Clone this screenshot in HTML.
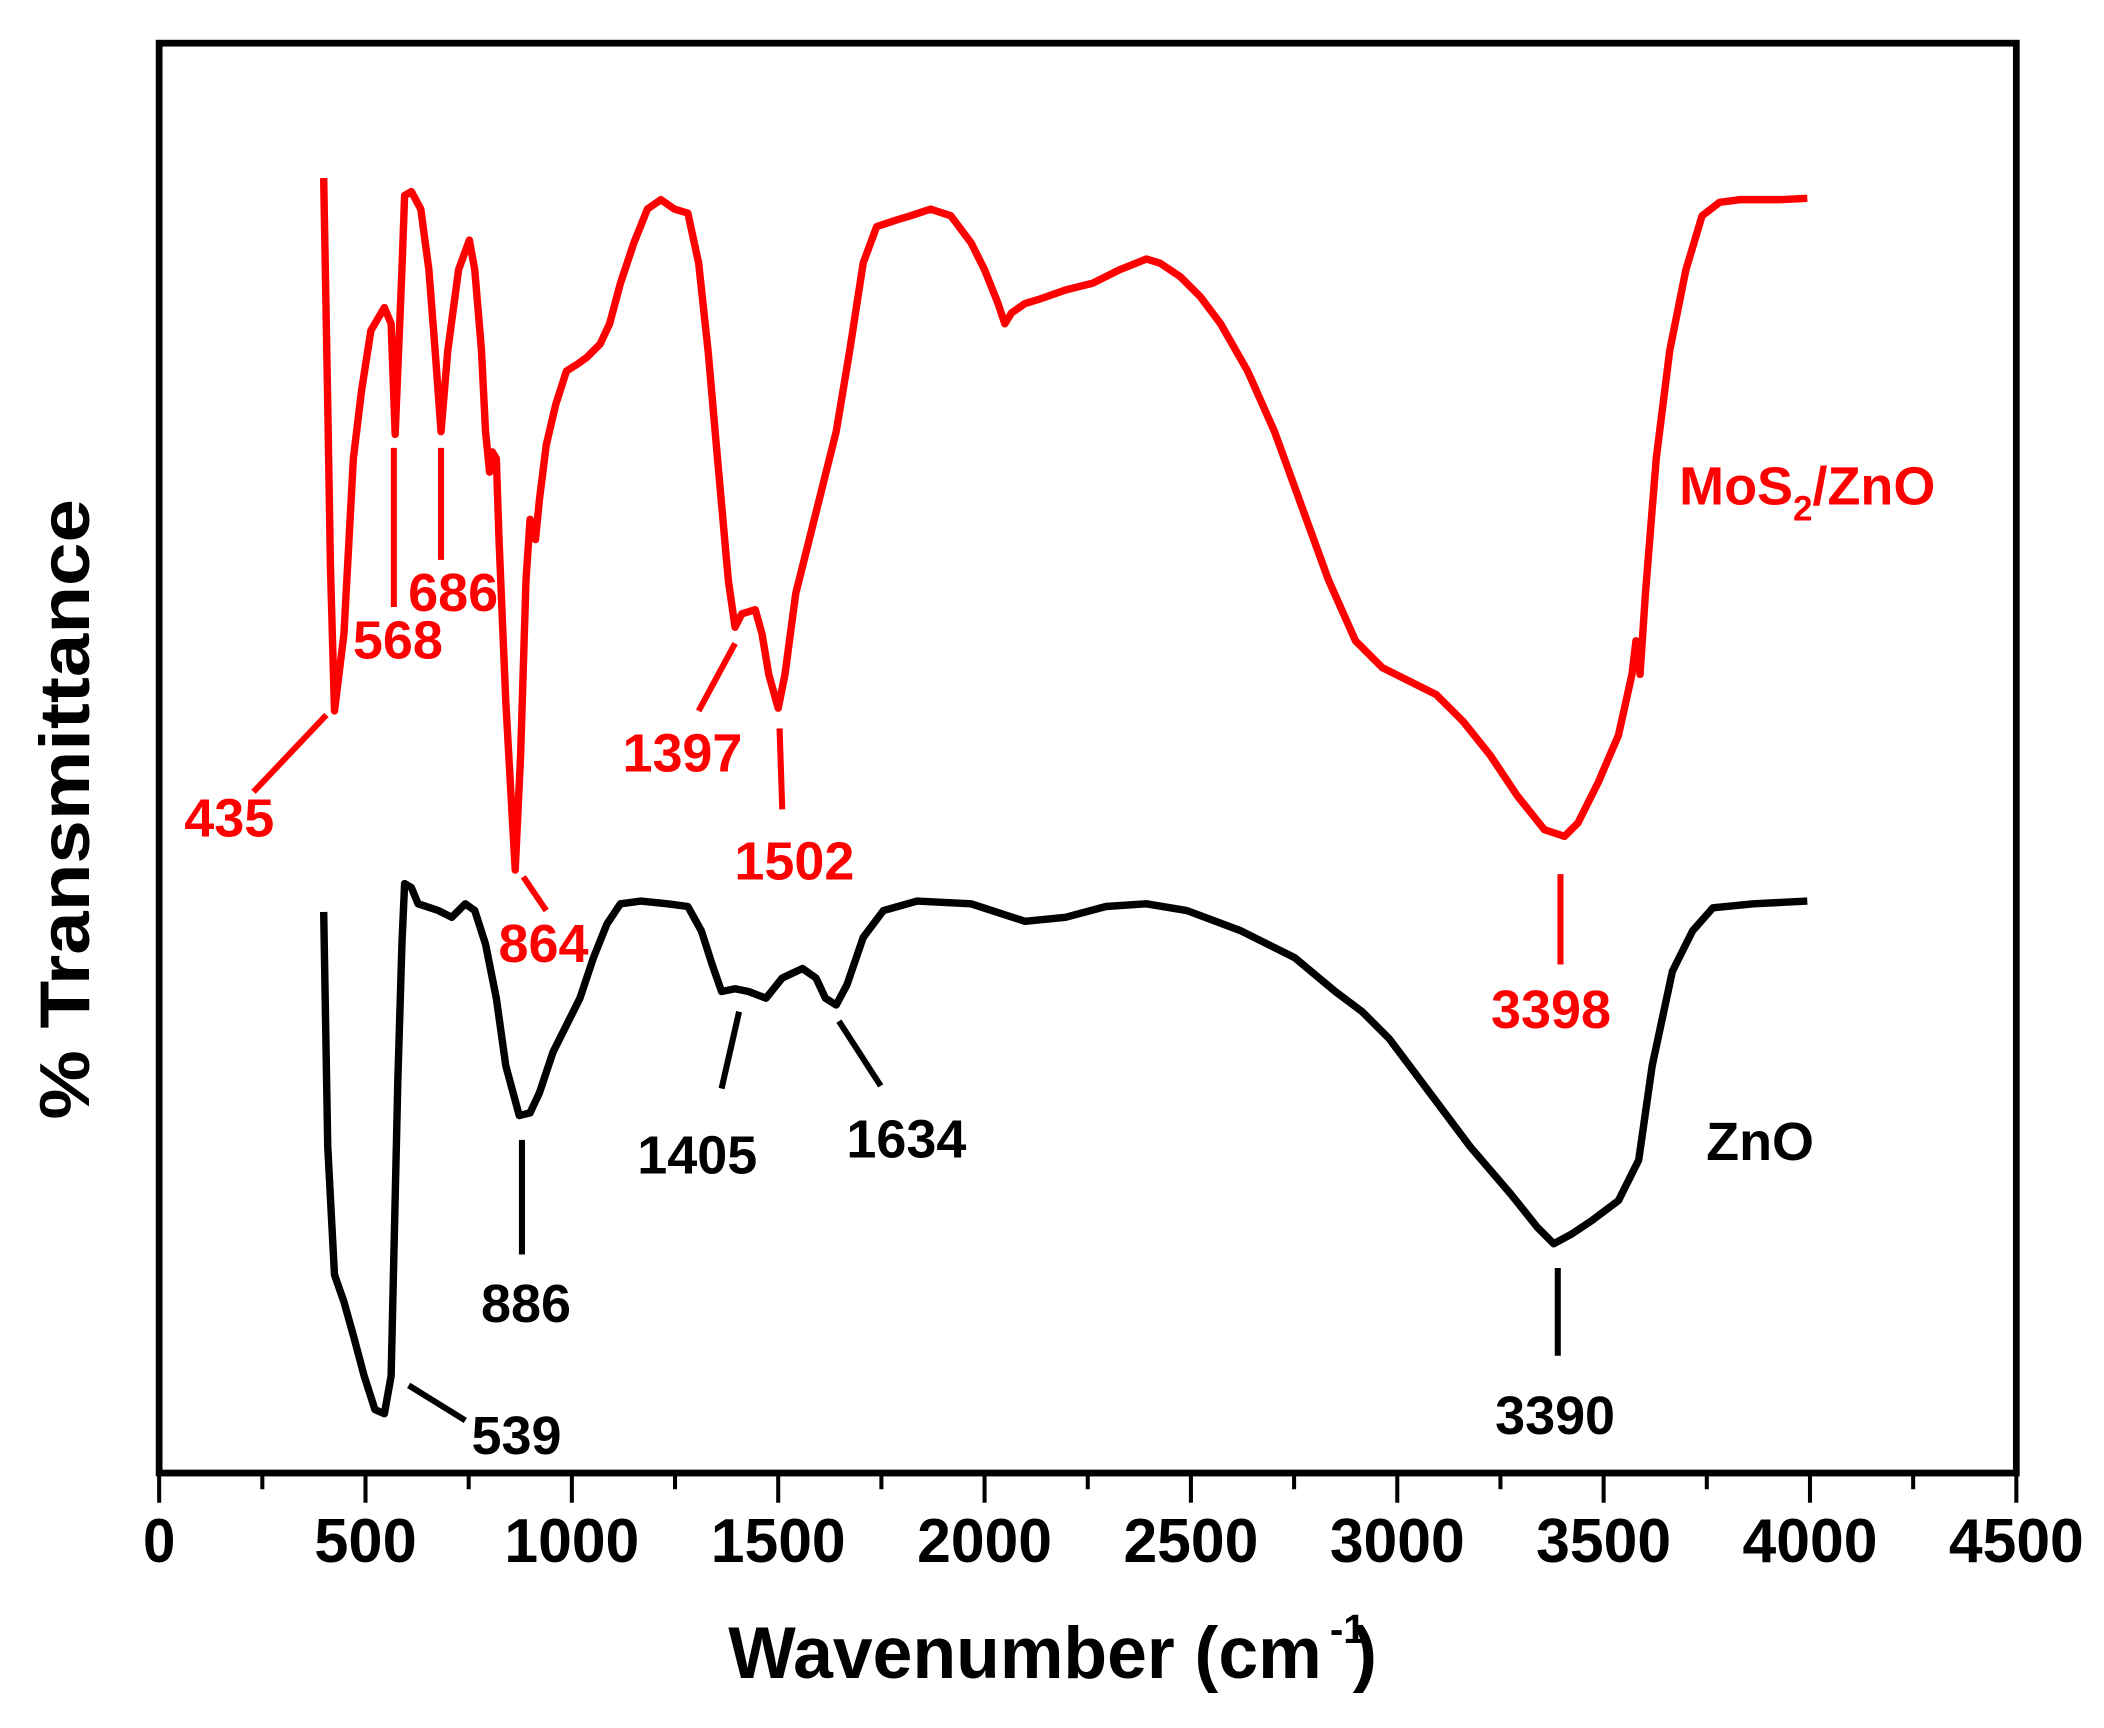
<!DOCTYPE html>
<html><head><meta charset="utf-8"><style>html,body{margin:0;padding:0;background:#fff}svg{display:block}</style></head>
<body>
<svg width="2104" height="1728" viewBox="0 0 1560 1281" preserveAspectRatio="none" xmlns="http://www.w3.org/2000/svg" font-family="Liberation Sans, Arial, sans-serif" font-weight="bold">
<rect x="0" y="0" width="1560" height="1281" fill="#fff"/>
<rect x="118" y="32" width="1377" height="1060" fill="none" stroke="#000" stroke-width="5"/>
<g stroke="#000" stroke-width="3">
<line x1="118" y1="1092" x2="118" y2="1114"/><line x1="271" y1="1092" x2="271" y2="1114"/><line x1="424" y1="1092" x2="424" y2="1114"/><line x1="577" y1="1092" x2="577" y2="1114"/><line x1="730" y1="1092" x2="730" y2="1114"/><line x1="883" y1="1092" x2="883" y2="1114"/><line x1="1036" y1="1092" x2="1036" y2="1114"/><line x1="1189" y1="1092" x2="1189" y2="1114"/><line x1="1342" y1="1092" x2="1342" y2="1114"/><line x1="1495" y1="1092" x2="1495" y2="1114"/>
<line x1="194.5" y1="1092" x2="194.5" y2="1104"/><line x1="347.5" y1="1092" x2="347.5" y2="1104"/><line x1="500.5" y1="1092" x2="500.5" y2="1104"/><line x1="653.5" y1="1092" x2="653.5" y2="1104"/><line x1="806.5" y1="1092" x2="806.5" y2="1104"/><line x1="959.5" y1="1092" x2="959.5" y2="1104"/><line x1="1112.5" y1="1092" x2="1112.5" y2="1104"/><line x1="1265.5" y1="1092" x2="1265.5" y2="1104"/><line x1="1418.5" y1="1092" x2="1418.5" y2="1104"/>
</g>
<g font-size="46" text-anchor="middle" fill="#000">
<text x="118" y="1158" textLength="24" lengthAdjust="spacingAndGlyphs">0</text><text x="271" y="1158" textLength="76" lengthAdjust="spacingAndGlyphs">500</text><text x="424" y="1158" textLength="100" lengthAdjust="spacingAndGlyphs">1000</text><text x="577" y="1158" textLength="100" lengthAdjust="spacingAndGlyphs">1500</text><text x="730" y="1158" textLength="100" lengthAdjust="spacingAndGlyphs">2000</text><text x="883" y="1158" textLength="100" lengthAdjust="spacingAndGlyphs">2500</text><text x="1036" y="1158" textLength="100" lengthAdjust="spacingAndGlyphs">3000</text><text x="1189" y="1158" textLength="100" lengthAdjust="spacingAndGlyphs">3500</text><text x="1342" y="1158" textLength="100" lengthAdjust="spacingAndGlyphs">4000</text><text x="1495" y="1158" textLength="100" lengthAdjust="spacingAndGlyphs">4500</text>
</g>
<text x="540" y="1244" font-size="54" textLength="440" lengthAdjust="spacingAndGlyphs">Wavenumber (cm</text>
<text x="986" y="1218" font-size="30">-1</text>
<text x="1003" y="1244" font-size="54">)</text>
<text transform="translate(66,600) rotate(-90)" font-size="52" text-anchor="middle" textLength="460" lengthAdjust="spacingAndGlyphs">% Transmittance</text>

<polyline fill="none" stroke="#ff0000" stroke-width="5.5" stroke-linejoin="round" points="240,132 243,300 245,420 248,527 255,470 262,340 268,290 275,245 285,228 290,240 293,322 298,200 300,145 305,142 312,155 318,200 323,265 327,320 332,260 340,200 348,178 352,200 357,260 360,320 363,350 365,335 368,340 370,400 375,520 382,645 386,560 390,430 393,385 397,400 400,370 405,330 412,300 420,275 428,270 435,265 445,255 452,240 460,210 470,180 480,155 490,148 500,155 510,158 518,195 525,260 532,340 540,430 545,465 550,455 560,452 565,470 570,500 577,525 582,500 590,440 600,400 610,360 620,320 630,260 640,195 650,168 665,163 675,160 690,155 705,160 720,180 730,200 740,225 745,240 750,232 760,225 770,222 790,215 810,210 830,200 850,192 860,195 875,205 890,220 905,240 925,275 945,320 965,375 985,430 1005,475 1025,495 1045,505 1065,515 1085,535 1105,560 1125,590 1145,615 1160,620 1170,610 1185,580 1200,545 1210,500 1213,475 1216,500 1220,440 1228,340 1238,260 1250,200 1262,160 1275,150 1290,148 1320,148 1340,147"/>
<polyline fill="none" stroke="#000" stroke-width="5.5" stroke-linejoin="round" points="240,676 243,850 248,945 255,965 262,990 270,1020 278,1045 285,1048 290,1020 295,800 298,700 300,655 305,658 310,670 325,675 335,680 345,670 352,675 360,700 368,740 375,790 385,827 393,825 400,810 410,780 420,760 430,740 440,710 450,685 460,670 475,668 495,670 510,672 520,690 528,715 535,735 545,733 555,735 568,740 580,725 595,718 605,725 612,740 620,745 628,730 640,695 655,675 680,668 720,670 760,683 790,680 820,672 850,670 880,675 920,690 960,710 990,735 1010,750 1030,770 1060,810 1090,850 1120,885 1140,910 1152,922 1165,915 1180,905 1200,890 1215,860 1225,790 1240,720 1255,690 1270,673 1300,670 1340,668"/>

<g stroke="#ff0000" stroke-width="4.5">
<line x1="188" y1="587" x2="242" y2="530"/><line x1="292" y1="332" x2="292" y2="450"/><line x1="327" y1="332" x2="327" y2="415"/><line x1="388" y1="650" x2="405" y2="675"/><line x1="518" y1="527" x2="545" y2="477"/><line x1="578" y1="540" x2="580" y2="600"/><line x1="1157" y1="648" x2="1157" y2="715"/>
</g>
<g fill="#ff0000" font-size="40" text-anchor="middle">
<text x="170" y="620">435</text><text x="295" y="488">568</text><text x="336" y="453">686</text><text x="403" y="713">864</text><text x="506" y="572">1397</text><text x="589" y="652">1502</text><text x="1150" y="762">3398</text>
<text x="1245" y="374" text-anchor="start" font-size="40">MoS<tspan font-size="26" dy="12">2</tspan><tspan dy="-12">/ZnO</tspan></text>
</g>
<g stroke="#000" stroke-width="4.5">
<line x1="303" y1="1027" x2="345" y2="1053"/><line x1="387" y1="845" x2="387" y2="930"/><line x1="548" y1="750" x2="535" y2="807"/><line x1="622" y1="757" x2="653" y2="805"/><line x1="1155" y1="940" x2="1155" y2="1005"/>
</g>
<g fill="#000" font-size="40" text-anchor="middle">
<text x="383" y="1078">539</text><text x="390" y="980">886</text><text x="517" y="870">1405</text><text x="672" y="858">1634</text><text x="1153" y="1063">3390</text><text x="1305" y="860" font-size="40">ZnO</text>
</g>
</svg>
</body></html>
